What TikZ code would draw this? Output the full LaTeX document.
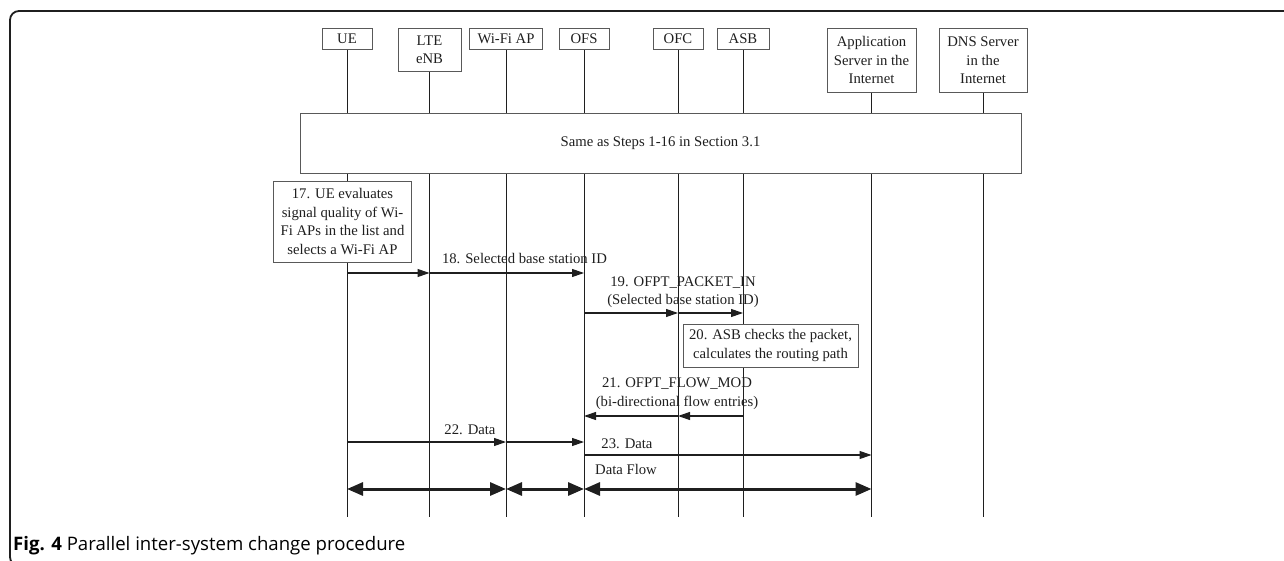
\documentclass[tikz,border=0pt]{standalone}
\usepackage{fontspec}
\setmainfont{Liberation Serif}
\newfontfamily\capfont{Open Sans}
\usetikzlibrary{arrows.meta}
\definecolor{boxgray}{gray}{0.35}
\definecolor{inkgray}{gray}{0.12}

\begin{document}
\begin{tikzpicture}[x=1pt,y=-1pt,>={Triangle[length=12pt,width=8pt]},
    font=\fontsize{14.7}{18.5}\selectfont, text=inkgray,
    entity/.style={draw=boxgray, fill=white, anchor=north, align=center, inner sep=1pt, minimum height=21pt, line width=0.9pt},
    stepbox/.style={draw=boxgray, fill=white, align=center, inner sep=1pt, line width=0.9pt},
    lifeline/.style={draw=inkgray, line width=0.9pt},
    msg/.style={->, draw=inkgray, line width=1.1pt},
    flow/.style={<->, draw=inkgray, line width=3pt, >={Triangle[length=16pt,width=13pt]}},
    lbl/.style={inner sep=0pt, align=center}]
    \useasboundingbox (0,0) rectangle (1284,561);
    % frame and caption
    \draw[inkgray, line width=1.8pt, rounded corners=9pt] (1290,11) -- (10,11) -- (10,566) -- (60,566);
    \node[anchor=west, inner sep=0pt, text=black, font=\capfont\fontsize{18.6}{21}\selectfont] (cap) at (13,546) {\textbf{Fig. 4} Parallel inter-system change procedure};
    % entities
    \node[entity, minimum width=50pt] (ue) at (347,28) {UE};
    \node[entity, minimum width=63pt, minimum height=43pt] (lte) at (429.5,28) {LTE\\eNB};
    \node[entity, minimum width=73pt] (wifi) at (506,28) {Wi-Fi AP};
    \node[entity, minimum width=50pt] (ofs) at (584,28) {OFS};
    \node[entity, minimum width=50pt] (ofc) at (678,28) {OFC};
    \node[entity, minimum width=52pt] (asb) at (743,28) {ASB};
    \node[entity, minimum width=89pt, minimum height=64pt] (app) at (871.5,28) {Application\\Server in the\\Internet};
    \node[entity, minimum width=88pt, minimum height=64pt] (dns) at (983,28) {DNS Server\\in the\\Internet};
    % lifelines
    \coordinate (bottom) at (0,517);
    \foreach \n in {ue,lte,wifi,ofs,ofc,asb,app,dns}
      \draw[lifeline] (\n.south) -- (\n |- bottom);
    % boxes on the lifelines
    \node[stepbox, minimum width=721pt, minimum height=60pt] (same) at (660.5,143.5) {Same as Steps 1-16 in Section 3.1};
    \node[stepbox, minimum width=138pt, minimum height=81pt] (s17) at (342.5,221.5) {17. UE evaluates\\signal quality of Wi-\\Fi APs in the list and\\selects a Wi-Fi AP};
    \node[stepbox, minimum width=175pt, minimum height=43pt] (s20) at (770.5,345.5) {20. ASB checks the packet,\\calculates the routing path};
    % message rows
    \coordinate (r18) at (0,273);
    \coordinate (r19) at (0,313);
    \coordinate (r21) at (0,416);
    \coordinate (r22) at (0,442);
    \coordinate (r23) at (0,455);
    \coordinate (rflow) at (0,489);
    % 18
    \draw[msg] (ue |- r18) -- (lte |- r18);
    \draw[msg] (lte |- r18) -- (ofs |- r18);
    \node[lbl] (l18) at (524.5,259) {18. Selected base station ID};
    % 19
    \draw[msg] (ofs |- r19) -- (ofc |- r19);
    \draw[msg] (ofc |- r19) -- (asb |- r19);
    \node[lbl] (l19) at (683,292) {19. OFPT\_PACKET\_IN\\(Selected base station ID)};
    % 21
    \draw[msg] (asb |- r21) -- (ofc |- r21);
    \draw[msg] (ofc |- r21) -- (ofs |- r21);
    \node[lbl] (l21) at (677,393.5) {21. OFPT\_FLOW\_MOD\\(bi-directional flow entries)};
    % 22
    \draw[msg] (ue |- r22) -- (wifi |- r22);
    \draw[msg] (wifi |- r22) -- (ofs |- r22);
    \node[lbl] (l22) at (470,430) {22. Data};
    % 23
    \draw[msg] (ofs |- r23) -- (app |- r23);
    \node[lbl] (l23) at (627,444) {23. Data};
    % data flow
    \draw[flow] (ue |- rflow) -- (wifi |- rflow);
    \draw[flow] (wifi |- rflow) -- (ofs |- rflow);
    \draw[flow] (ofs |- rflow) -- (app |- rflow);
    \node[lbl] (lflow) at (626,469) {Data Flow};
\end{tikzpicture}
\end{document}
